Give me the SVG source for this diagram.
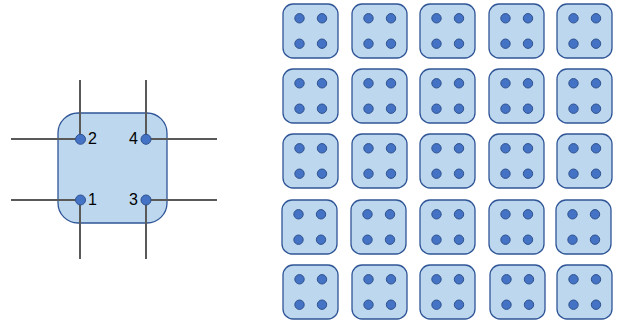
<svg xmlns="http://www.w3.org/2000/svg" xmlns:xlink="http://www.w3.org/1999/xlink" width="624" height="324" viewBox="0 0 624 324">
  <style>
    .body { fill: #BDD7EE; stroke: #2F5597; stroke-width: 1.3; }
    .pin { fill: #4472C4; stroke: #2F528F; stroke-width: 1; }
    .wire { stroke: #595959; stroke-width: 2; fill: none; }
    .lbl { font-family: "Liberation Sans", Arial, sans-serif; font-size: 16px; fill: #000; }
  </style>
  <defs>
    <!-- one small four-pin module -->
    <g id="module">
      <rect class="body" x="0" y="0" width="55" height="54" rx="10" ry="10"/>
      <circle class="pin" cx="16.5" cy="14.3" r="4.7"/>
      <circle class="pin" cx="39" cy="14.3" r="4.7"/>
      <circle class="pin" cx="16.5" cy="39.7" r="4.7"/>
      <circle class="pin" cx="39" cy="39.7" r="4.7"/>
    </g>
  </defs>

  <!-- large module body -->
  <g id="big-module">
    <rect class="body" x="58" y="113" width="109" height="110" rx="20" ry="20"/>
  </g>

  <!-- wires crossing at each pin -->
  <g id="connectors">
    <line class="wire" x1="11" y1="139" x2="80" y2="139"/>
    <line class="wire" x1="80" y1="80" x2="80" y2="139"/>
    <line class="wire" x1="146" y1="139" x2="217" y2="139"/>
    <line class="wire" x1="146" y1="80" x2="146" y2="139"/>
    <line class="wire" x1="11" y1="200" x2="80" y2="200"/>
    <line class="wire" x1="80" y1="200" x2="80" y2="259"/>
    <line class="wire" x1="146" y1="200" x2="217" y2="200"/>
    <line class="wire" x1="146" y1="200" x2="146" y2="259"/>
  </g>

  <!-- pins with numbers -->
  <g id="pin-2"><circle class="pin" cx="80.5" cy="139.3" r="5"/><text class="lbl" x="88" y="144">2</text></g>
  <g id="pin-4"><circle class="pin" cx="146" cy="139.3" r="5"/><text class="lbl" x="138" y="144" text-anchor="end">4</text></g>
  <g id="pin-1"><circle class="pin" cx="80.5" cy="200" r="5"/><text class="lbl" x="88" y="205">1</text></g>
  <g id="pin-3"><circle class="pin" cx="146" cy="200" r="5"/><text class="lbl" x="138" y="205" text-anchor="end">3</text></g>

  <!-- 5 x 5 array of modules -->
  <g id="m-1-1"><use xlink:href="#module" x="283" y="4"/></g>
  <g id="m-1-2"><use xlink:href="#module" x="352" y="4"/></g>
  <g id="m-1-3"><use xlink:href="#module" x="420" y="4"/></g>
  <g id="m-1-4"><use xlink:href="#module" x="489" y="4"/></g>
  <g id="m-1-5"><use xlink:href="#module" x="557" y="4"/></g>

  <g id="m-2-1"><use xlink:href="#module" x="283" y="69"/></g>
  <g id="m-2-2"><use xlink:href="#module" x="352" y="69"/></g>
  <g id="m-2-3"><use xlink:href="#module" x="420" y="69"/></g>
  <g id="m-2-4"><use xlink:href="#module" x="489" y="69"/></g>
  <g id="m-2-5"><use xlink:href="#module" x="557" y="69"/></g>

  <g id="m-3-1"><use xlink:href="#module" x="283" y="134"/></g>
  <g id="m-3-2"><use xlink:href="#module" x="352" y="134"/></g>
  <g id="m-3-3"><use xlink:href="#module" x="420" y="134"/></g>
  <g id="m-3-4"><use xlink:href="#module" x="489" y="134"/></g>
  <g id="m-3-5"><use xlink:href="#module" x="557" y="134"/></g>

  <g id="m-4-1"><use xlink:href="#module" x="282" y="200"/></g>
  <g id="m-4-2"><use xlink:href="#module" x="351" y="200"/></g>
  <g id="m-4-3"><use xlink:href="#module" x="420" y="200"/></g>
  <g id="m-4-4"><use xlink:href="#module" x="489" y="200"/></g>
  <g id="m-4-5"><use xlink:href="#module" x="556" y="200"/></g>

  <g id="m-5-1"><use xlink:href="#module" x="283" y="265"/></g>
  <g id="m-5-2"><use xlink:href="#module" x="352" y="265"/></g>
  <g id="m-5-3"><use xlink:href="#module" x="420" y="265"/></g>
  <g id="m-5-4"><use xlink:href="#module" x="490" y="265"/></g>
  <g id="m-5-5"><use xlink:href="#module" x="557" y="265"/></g>
</svg>
